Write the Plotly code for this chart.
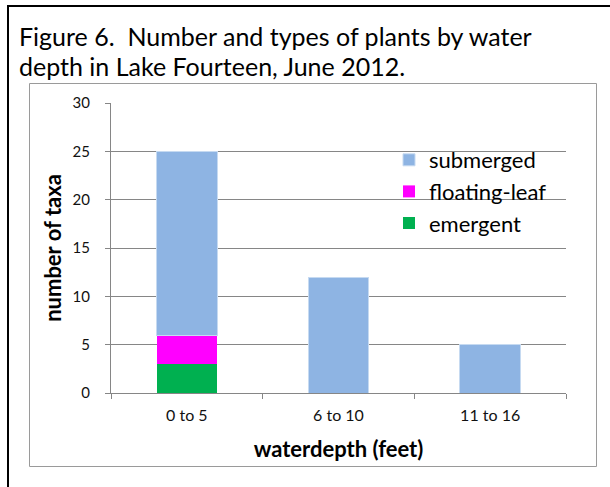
import plotly.graph_objects as go

W, H = 610, 487

categories = ["0 to 5", "6 to 10", "11 to 16"]
emergent = [3, 0, 0]
floating_leaf = [3, 0, 0]
submerged = [19, 12, 5]
y_ticks = [0, 5, 10, 15, 20, 25, 30]

FONT = "Lato, 'Liberation Sans', sans-serif"
GRID = "#868686"


def px(x):
    return x / W


def py(y):
    return 1 - y / H


fig = go.Figure()
fig.add_trace(go.Bar(name="emergent", x=categories, y=emergent,
                     marker=dict(color="#00B050", line=dict(width=0))))
fig.add_trace(go.Bar(name="floating-leaf", x=categories, y=floating_leaf,
                     marker=dict(color="#FF00FF", line=dict(width=0))))
fig.add_trace(go.Bar(name="submerged", x=categories, y=submerged,
                     marker=dict(color="#8EB4E3", line=dict(color="#C6DAF1", width=1))))

shapes = [
    # outer black frame (left and top)
    dict(type="line", xref="paper", yref="paper", x0=px(8), x1=px(8), y0=py(6), y1=py(487),
         line=dict(color="black", width=2)),
    dict(type="line", xref="paper", yref="paper", x0=px(7), x1=px(610), y0=py(6), y1=py(6),
         line=dict(color="black", width=2)),
    # grey chart frame
    dict(type="rect", xref="paper", yref="paper", x0=px(29.5), x1=px(596.5), y0=py(466.5), y1=py(83.5),
         line=dict(color="#9a9a9a", width=1), layer="below"),
]

annotations = [
    dict(text="Figure 6.\u00a0 Number and types of plants by water", x=px(17), y=py(36),
         xref="paper", yref="paper", xanchor="left", yanchor="middle", showarrow=False,
         font=dict(family=FONT, size=25, color="black")),
    dict(text="depth in Lake Fourteen, June 2012.", x=px(17), y=py(66),
         xref="paper", yref="paper", xanchor="left", yanchor="middle", showarrow=False,
         font=dict(family=FONT, size=25, color="black")),
]

fig.update_layout(
    width=W, height=H,
    margin=dict(l=0, r=0, t=0, b=0),
    paper_bgcolor="white", plot_bgcolor="white",
    barmode="stack", bargap=0.6,
    font=dict(family=FONT, color="#111"),
    shapes=shapes, annotations=annotations,
    showlegend=True,
    legend=dict(x=px(389), y=py(139), xanchor="left", yanchor="top",
                traceorder="reversed", bgcolor="rgba(0,0,0,0)",
                font=dict(family=FONT, size=22, color="black"),
                itemclick=False, itemdoubleclick=False),
    xaxis=dict(domain=[px(111), px(566)], showline=True, linecolor=GRID, linewidth=1,
               ticks="outside", tickson="boundaries", ticklen=5, tickcolor=GRID,
               tickfont=dict(size=16, color="#111"), ticklabelstandoff=8,
               title=dict(text="<b>waterdepth (feet)</b>", font=dict(size=22, color="black"), standoff=18),
               automargin=False),
    yaxis=dict(domain=[py(393), py(103)], range=[0, 30], tickvals=y_ticks,
               showline=True, linecolor=GRID, linewidth=1,
               showgrid=True, gridcolor=GRID, gridwidth=1, zeroline=False,
               ticks="outside", ticklen=5, tickcolor=GRID,
               tickfont=dict(size=15, color="#111"), ticklabelstandoff=12,
               title=dict(text="<b>number of taxa</b>", font=dict(size=22, color="black"), standoff=4),
               automargin=False),
)

fig.write_html("out.html", config={"displayModeBar": False},
               post_script="document.body.style.margin='0';")
